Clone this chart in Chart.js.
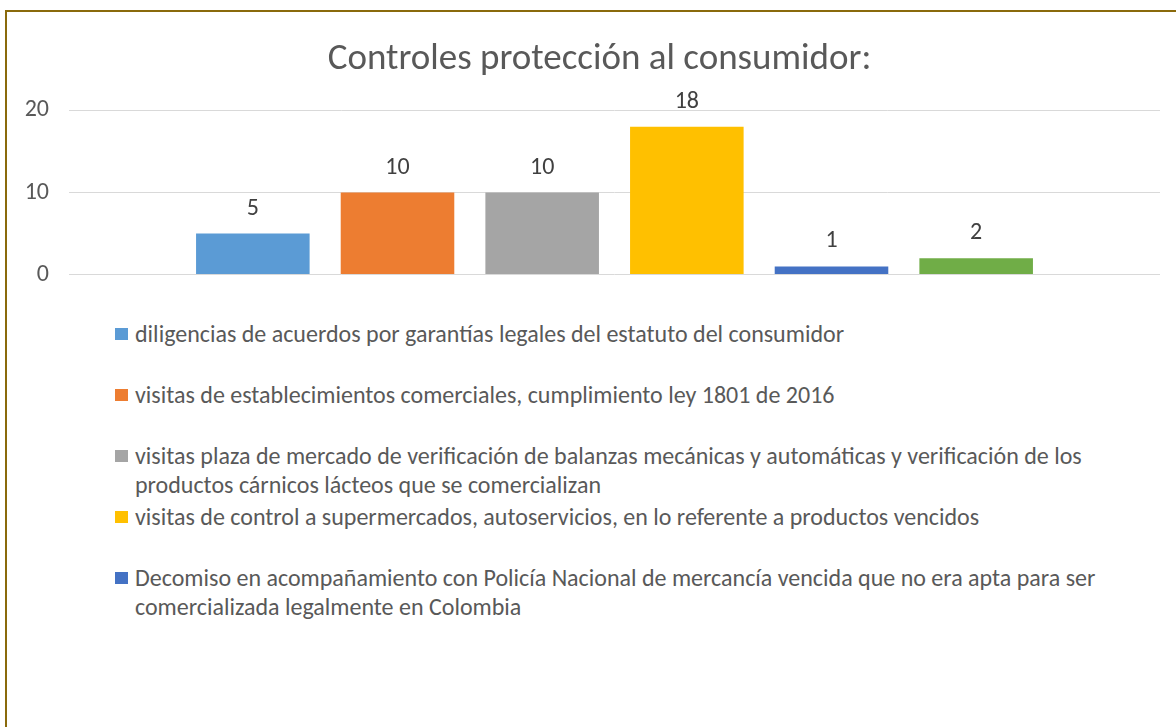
<!DOCTYPE html>
<html><head><meta charset="utf-8">
<script src="https://cdn.jsdelivr.net/npm/chart.js@4.4.1/dist/chart.umd.min.js"></script>
<style>
html,body{margin:0;padding:0;background:#fff;width:1176px;height:727px;overflow:hidden;position:relative}
#frame{position:absolute;left:5px;top:10px;width:1200px;height:760px;border-top:2px solid #8A6A0C;border-left:2px solid #8A6A0C;box-sizing:border-box}
#wrap{position:absolute;left:0;top:0;width:1176px;height:309px}
#legend{position:absolute;left:115px;top:319px;width:1000px;font-family:"Carlito","Calibri","Lato",sans-serif;font-size:24px;color:#595959;line-height:29px}
.item{position:relative;min-height:61px;padding-left:20px}
.sw{position:absolute;left:0;top:9px;width:13px;height:12px}
</style></head>
<body>
<div id="frame"></div>
<div id="wrap"><canvas id="c" width="1176" height="309"></canvas></div>
<div id="legend"></div>
<script>
const titleText = 'Controles protección al consumidor:';
const categories = [''];
const seriesNames = [
  'diligencias de acuerdos por garantías legales del estatuto del consumidor',
  'visitas de establecimientos comerciales, cumplimiento ley 1801 de 2016',
  'visitas plaza de mercado de verificación de balanzas mecánicas y automáticas y verificación de los productos cárnicos lácteos que se comercializan',
  'visitas de control a supermercados, autoservicios, en lo referente a productos vencidos',
  'Decomiso en acompañamiento con Policía Nacional de mercancía vencida que no era apta para ser comercializada legalmente en Colombia',
  ''
];
const seriesValues = [5, 10, 10, 18, 1, 2];
const seriesColors = ['#5B9BD5', '#ED7D31', '#A5A5A5', '#FFC000', '#4472C4', '#70AD47'];
const yTicks = [0, 10, 20];

const FONT = '"Carlito","Calibri","Lato",sans-serif';

const valueLabels = {
  id: 'valueLabels',
  afterDatasetsDraw(chart) {
    const ctx = chart.ctx;
    ctx.save();
    ctx.font = '24px ' + FONT;
    ctx.fillStyle = '#404040';
    ctx.textAlign = 'center';
    ctx.textBaseline = 'alphabetic';
    chart.data.datasets.forEach((ds, i) => {
      const meta = chart.getDatasetMeta(i);
      meta.data.forEach((bar, j) => {
        ctx.fillText(String(ds.data[j]), bar.x, bar.y - 19);
      });
    });
    ctx.restore();
  }
};

new Chart(document.getElementById('c'), {
  type: 'bar',
  data: {
    labels: categories,
    datasets: seriesValues.map((v, i) => ({
      label: seriesNames[i],
      data: [v],
      backgroundColor: seriesColors[i],
      borderWidth: 0,
      categoryPercentage: 0.7956,
      barPercentage: 0.785
    }))
  },
  options: {
    responsive: false,
    animation: false,
    layout: { padding: { left: 23, right: 0, top: 0, bottom: 26 } },
    plugins: {
      legend: { display: false },
      tooltip: { enabled: false },
      title: {
        display: true,
        text: titleText,
        color: '#595959',
        font: { family: FONT, size: 37, weight: 'normal' },
        padding: { top: 38, bottom: 28 }
      }
    },
    scales: {
      x: { display: false },
      y: {
        position: 'left',
        min: 0, max: 20,
        afterFit: s => { s.width = 46; },
        afterBuildTicks: s => { s.ticks = yTicks.map(v => ({ value: v })); },
        border: { display: false },
        grid: { color: '#D9D9D9', lineWidth: 1, drawTicks: false },
        ticks: { color: '#595959', font: { family: FONT, size: 24 }, padding: 20 }
      },
      y2: {
        position: 'right',
        display: true,
        min: 0, max: 20,
        afterFit: s => { s.width = 16; },
        border: { display: false },
        grid: { display: false, drawTicks: false },
        ticks: { display: false }
      }
    }
  },
  plugins: [valueLabels]
});

const legend = document.getElementById('legend');
seriesNames.forEach((name, i) => {
  if (!name) return;
  const it = document.createElement('div');
  it.className = 'item';
  const sw = document.createElement('span');
  sw.className = 'sw';
  sw.style.background = seriesColors[i];
  it.appendChild(sw);
  it.appendChild(document.createTextNode(name));
  legend.appendChild(it);
});
</script>
</body></html>
